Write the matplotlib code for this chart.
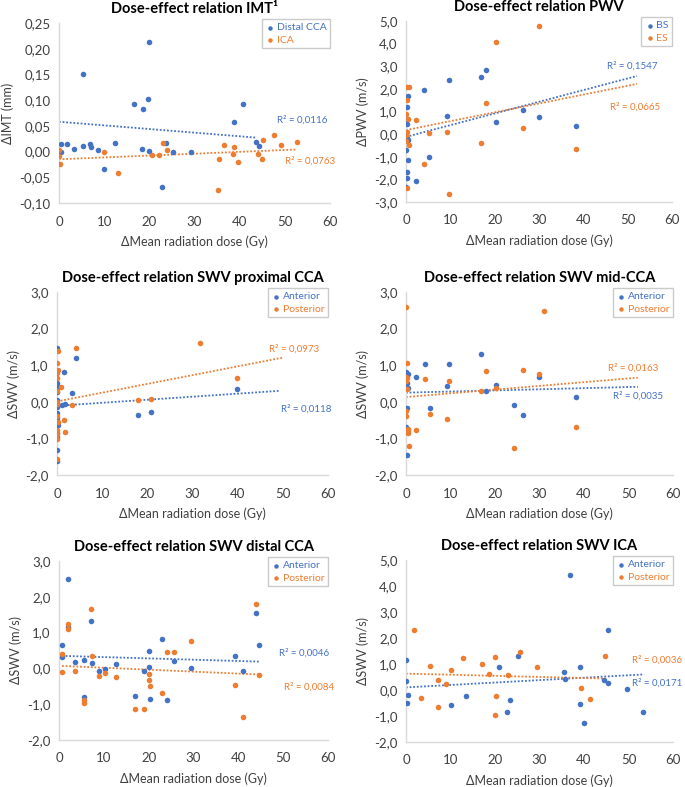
import numpy as np
import matplotlib
matplotlib.use("Agg")
import matplotlib.pyplot as plt
from matplotlib.ticker import FuncFormatter, MultipleLocator

plt.rcParams['font.family'] = ['Lato', 'DejaVu Sans']

BLUE = '#4472C4'
ORANGE = '#ED7D31'
AXIS = '#D9D9D9'
TEXT = '#404040'

# ---- panel 1: IMT ----
imt_cca_x = [0.4, 0.4, 1.7, 3.3, 5.4, 5.3, 6.8, 7.0, 8.7, 10.0, 12.5, 16.7, 18.7, 18.4, 19.8,
             19.9, 20.0, 22.7, 23.8, 25.3, 29.2, 38.8, 40.8, 43.6, 44.2]
imt_cca_y = [0.015, 0.0, 0.015, 0.005, 0.150, 0.010, 0.014, 0.008, 0.003, -0.034, 0.017, 0.093,
             0.083, 0.005, 0.103, 0.001, 0.214, -0.068, 0.016, -0.001, -0.001, 0.057, 0.093, 0.018, 0.010]
imt_ica_x = [0.0, 0.0, 0.15, 9.9, 13.1, 20.6, 22.2, 23.0, 23.9, 35.1, 35.4, 36.5, 38.7, 38.6,
             39.6, 44.0, 45.1, 44.9, 47.5, 49.1, 52.6]
imt_ica_y = [0.003, -0.008, -0.025, -0.001, -0.041, -0.007, -0.007, 0.016, 0.003, -0.074, -0.015,
             0.012, 0.009, -0.004, -0.021, -0.004, 0.022, -0.014, 0.032, 0.012, 0.019]
imt_cca_trend = [[0.0, 43.8], [0.058, 0.027]]
imt_ica_trend = [[0.0, 52.5], [-0.015, 0.004]]

# ---- panel 2: PWV ----
pwv_bs_x = [0.45, 0.2, 0.1, 0.2, 0.0, 0.3, 0.45, 0.0, 0.45, 0.2, 0.2, 0.0, 2.3, 4.1, 5.3, 9.3,
            9.6, 16.9, 18.1, 20.3, 26.5, 29.9, 38.4]
pwv_bs_y = [1.67, 1.18, 0.64, 0.44, 0.03, -0.19, -0.27, -0.72, -1.14, -1.67, -1.96, -2.33, -2.07,
            1.96, -0.99, 0.81, 2.41, 2.54, 2.82, 0.53, 1.08, 0.77, 0.34]
pwv_es_x = [0.15, 0.6, 0.3, 0.0, 0.45, 0.15, 0.0, 0.1, 0.6, 0.3, 2.3, 4.1, 5.3, 9.3, 9.6, 16.9,
            18.1, 20.3, 26.5, 29.9, 38.4]
pwv_es_y = [2.10, 2.10, 1.52, 0.87, 0.69, 0.10, -0.06, -0.31, -0.49, -2.36, 0.64, -1.31, 0.03,
            0.09, -2.63, -0.38, 1.37, 4.05, 0.27, 4.77, -0.64]
pwv_bs_trend = [[0.0, 52.1], [-0.12, 2.57]]
pwv_es_trend = [[0.0, 52.1], [0.18, 2.22]]

# ---- panel 3: SWV proximal CCA ----
prox_ant_x = [0.0, 0.0, 0.0, 0.0, 0.1, 0.1, 0.0, 0.0, 0.1, 0.2, 0.0, 0.0, 0.1, 0.1, 1.5, 1.0,
              1.8, 3.3, 4.3, 18.0, 20.8, 39.9]
prox_ant_y = [1.47, 0.52, 0.45, 0.38, 0.27, 0.05, -0.15, -0.30, -0.45, -0.64, -0.86, -0.95,
              -1.33, -1.62, 0.82, -0.10, -0.05, 0.25, 1.20, -0.35, -0.29, 0.36]
prox_post_x = [0.2, 0.0, 0.2, 0.1, 0.0, 0.0, 0.0, 0.0, 0.1, 0.2, 0.0, 0.1, 0.0, 0.0, 0.9, 1.5,
               1.8, 3.4, 4.3, 18.0, 20.8, 31.7, 39.9]
prox_post_y = [1.40, 1.07, 0.86, 0.80, 0.66, 0.29, 0.0, -0.06, -0.39, -0.55, -0.77, -0.88,
               -1.03, -1.57, 0.41, -0.51, -0.83, -0.10, 1.47, 0.06, 0.08, 1.60, 0.65]
prox_ant_trend = [[0.0, 49.3], [-0.11, 0.30]]
prox_post_trend = [[0.0, 50.1], [0.01, 1.21]]

# ---- panel 4: SWV mid-CCA ----
mid_ant_x = [0.0, 0.4, 0.15, 0.0, 0.5, 0.2, 0.0, 0.3, 2.3, 4.3, 5.3, 9.2, 9.6, 16.8, 18.0,
             20.2, 24.2, 26.3, 29.8, 38.2]
mid_ant_y = [0.82, 0.77, 0.51, 0.40, 0.39, -0.16, -0.70, -1.46, 0.69, 1.02, -0.17, 0.44, 1.02,
             1.30, 0.30, 0.46, -0.08, -0.36, 0.67, 0.12]
mid_post_x = [0.1, 0.2, 0.0, 0.2, 0.1, 0.3, 0.1, 0.0, 0.4, 0.5, 0.5, 0.7, 2.3, 4.3, 5.4, 9.3,
              9.6, 16.8, 18.0, 20.2, 24.2, 26.3, 29.8, 30.9, 38.2]
mid_post_y = [2.60, 1.05, 0.67, 0.64, 0.57, 0.35, -0.25, -0.38, -0.73, -0.79, -0.84, -1.21,
              -0.77, 0.62, -0.34, -0.47, 0.56, 0.29, 0.84, 0.39, -1.26, 0.86, 0.77, 2.47, -0.68]
mid_ant_trend = [[0.0, 52.1], [0.25, 0.41]]
mid_post_trend = [[0.0, 52.1], [0.13, 0.66]]

# ---- panel 5: SWV distal CCA ----
dist_ant_x = [0.67, 0.74, 2.0, 2.0, 3.6, 5.65, 5.65, 7.2, 7.4, 9.0, 10.2, 12.8, 16.9, 19.0,
              20.1, 20.1, 20.3, 22.9, 24.2, 25.6, 29.4, 39.2, 41.1, 43.9, 44.6]
dist_ant_y = [0.65, 0.32, 2.49, 1.17, 0.18, 0.23, -0.80, 1.33, 0.15, -0.07, -0.02, 0.12, -0.76,
              -0.07, 0.50, 0.04, -0.86, 0.81, -0.88, 0.20, 0.01, 0.36, -0.07, 1.55, 0.65]
dist_post_x = [0.67, 0.74, 2.0, 2.0, 3.6, 5.65, 5.65, 7.1, 7.4, 9.0, 10.2, 12.8, 16.9, 19.0,
               20.1, 20.1, 20.3, 22.9, 24.2, 25.6, 29.4, 39.2, 41.1, 43.9, 44.6]
dist_post_y = [0.40, -0.09, 1.25, 1.11, -0.06, -0.87, -0.97, 1.65, 0.35, -0.20, -0.14, -0.23,
               -1.14, -1.14, -0.16, -0.32, -0.50, -0.70, 0.45, 0.47, 0.76, -0.45, -1.36, 1.80, -0.19]
dist_ant_trend = [[0.67, 44.6], [0.35, 0.19]]
dist_post_trend = [[0.67, 44.6], [0.07, -0.17]]

# ---- panel 6: SWV ICA ----
ica_ant_x = [0.0, 0.0, 0.4, 0.15, 10.1, 13.5, 21.0, 22.7, 23.4, 25.1, 35.5, 35.7, 36.9, 39.2,
             39.1, 40.1, 44.5, 45.5, 45.5, 49.7, 53.3]
ica_ant_y = [1.14, 0.36, -0.19, -0.51, -0.59, -0.24, 0.87, -0.85, -0.40, 1.32, 0.71, 0.44, 4.43,
             0.87, -0.55, -1.26, 0.37, 0.28, 2.32, 0.04, -0.85]
ica_post_x = [1.9, 3.4, 5.5, 7.3, 7.1, 9.0, 10.2, 12.7, 17.0, 18.7, 20.1, 20.3, 20.1, 23.0,
              25.7, 29.5, 39.3, 41.3, 44.8]
ica_post_y = [2.32, -0.30, 0.92, 0.39, -0.67, 0.22, 0.78, 1.25, 0.99, 0.63, 1.27, -0.23, -0.96,
              0.56, 1.45, 0.87, 0.08, -0.33, 1.32]
ica_ant_trend = [[0.0, 53.5], [0.10, 0.60]]
ica_post_trend = [[0.0, 44.7], [0.63, 0.44]]

titles = ['Dose-effect relation IMT\u00b9', 'Dose-effect relation PWV',
          'Dose-effect relation SWV proximal CCA', 'Dose-effect relation SWV mid-CCA',
          'Dose-effect relation SWV distal CCA', 'Dose-effect relation SWV ICA']
ylabels = ['\u0394IMT (mm)', '\u0394PWV (m/s)', '\u0394SWV (m/s)', '\u0394SWV (m/s)',
           '\u0394SWV (m/s)', '\u0394SWV (m/s)']
series_names = [('Distal CCA', 'ICA'), ('BS', 'ES'), ('Anterior', 'Posterior'),
                ('Anterior', 'Posterior'), ('Anterior', 'Posterior'), ('Anterior', 'Posterior')]
r2_texts = [('R\u00b2 = 0,0116', 'R\u00b2 = 0,0763'), ('R\u00b2 = 0,1547', 'R\u00b2 = 0,0665'),
            ('R\u00b2 = 0,0118', 'R\u00b2 = 0,0973'), ('R\u00b2 = 0,0035', 'R\u00b2 = 0,0163'),
            ('R\u00b2 = 0,0046', 'R\u00b2 = 0,0084'), ('R\u00b2 = 0,0171', 'R\u00b2 = 0,0036')]
# (x, y) of the R² labels, blue then orange
r2_pos = [((48.2, 0.061), (50.0, -0.018)), ((45.3, 3.03), (46.0, 1.21)),
          ((49.5, -0.20), (47.0, 1.43)), ((46.5, 0.16), (45.3, 0.91)),
          ((49.0, 0.44), (50.2, -0.51)), ((50.8, 0.28), (50.8, 1.16))]
ylims = [(-0.10, 0.25, 0.05, 2), (-3.0, 5.0, 1.0, 1), (-2.0, 3.0, 1.0, 1),
         (-2.0, 3.0, 1.0, 1), (-2.0, 3.0, 1.0, 1), (-2.0, 5.0, 1.0, 1)]

data = [
    (imt_cca_x, imt_cca_y, imt_ica_x, imt_ica_y, imt_cca_trend, imt_ica_trend),
    (pwv_bs_x, pwv_bs_y, pwv_es_x, pwv_es_y, pwv_bs_trend, pwv_es_trend),
    (prox_ant_x, prox_ant_y, prox_post_x, prox_post_y, prox_ant_trend, prox_post_trend),
    (mid_ant_x, mid_ant_y, mid_post_x, mid_post_y, mid_ant_trend, mid_post_trend),
    (dist_ant_x, dist_ant_y, dist_post_x, dist_post_y, dist_ant_trend, dist_post_trend),
    (ica_ant_x, ica_ant_y, ica_post_x, ica_post_y, ica_ant_trend, ica_post_trend),
]

# axes boxes in pixels: left, top, right, bottom
W, H = 685, 787
boxes = [(59, 23, 330, 203), (406, 21, 672, 202),
         (57, 292, 328, 475), (406, 292, 673, 475),
         (59, 561, 328, 740), (406, 560, 673, 742)]

fig = plt.figure(figsize=(W / 100, H / 100), dpi=100)

for i in range(6):
    l, t, r, b = boxes[i]
    ax = fig.add_axes([l / W, 1 - b / H, (r - l) / W, (b - t) / H])
    bx, by, ox, oy, btr, otr = data[i]

    ax.scatter(bx, by, s=16, color=BLUE, label=series_names[i][0], zorder=3, linewidths=0)
    ax.scatter(ox, oy, s=16, color=ORANGE, label=series_names[i][1], zorder=3, linewidths=0)
    ax.plot(btr[0], btr[1], color=BLUE, linestyle=(0, (1, 1)), linewidth=1.3, zorder=2)
    ax.plot(otr[0], otr[1], color=ORANGE, linestyle=(0, (1, 1)), linewidth=1.3, zorder=2)

    (bpx, bpy), (opx, opy) = r2_pos[i]
    ax.text(bpx, bpy, r2_texts[i][0], color=BLUE, fontsize=7, va='center', clip_on=False)
    ax.text(opx, opy, r2_texts[i][1], color=ORANGE, fontsize=7, va='center', clip_on=False)

    ymin, ymax, step, dec = ylims[i]
    ax.set_xlim(0, 60)
    ax.set_ylim(ymin, ymax)
    ax.xaxis.set_major_locator(MultipleLocator(10))
    ax.yaxis.set_major_locator(MultipleLocator(step))
    ax.yaxis.set_major_formatter(FuncFormatter(
        lambda v, p, d=dec: ('{:.%df}' % d).format(v).replace('.', ',')))

    for s in ['top', 'right']:
        ax.spines[s].set_visible(False)
    for s in ['left', 'bottom']:
        ax.spines[s].set_color(AXIS)
        ax.spines[s].set_linewidth(1.0)
    ax.tick_params(axis='y', length=0, labelsize=9.5, labelcolor=TEXT, pad=6)
    ax.tick_params(axis='x', length=0, labelsize=9.5, labelcolor=TEXT, pad=9)

    ax.set_title(titles[i], fontsize=10.5, fontweight='bold', color='black', pad=7)
    ax.set_xlabel('\u0394Mean radiation dose (Gy)', fontsize=9, color=TEXT, labelpad=6)
    ax.set_ylabel(ylabels[i], fontsize=9, color=TEXT, labelpad=4)

    leg = ax.legend(loc='upper right', bbox_to_anchor=(1.0, 1.02), fontsize=7.5,
                    frameon=True, fancybox=False, handletextpad=0.1, handlelength=1.0,
                    borderpad=0.35, labelspacing=0.3, markerscale=0.8, borderaxespad=0)
    leg.get_frame().set_edgecolor('#BFBFBF')
    leg.get_frame().set_linewidth(1.0)
    for txt, col in zip(leg.get_texts(), [BLUE, ORANGE]):
        txt.set_color(col)

fig.savefig('out.png', dpi=100)
